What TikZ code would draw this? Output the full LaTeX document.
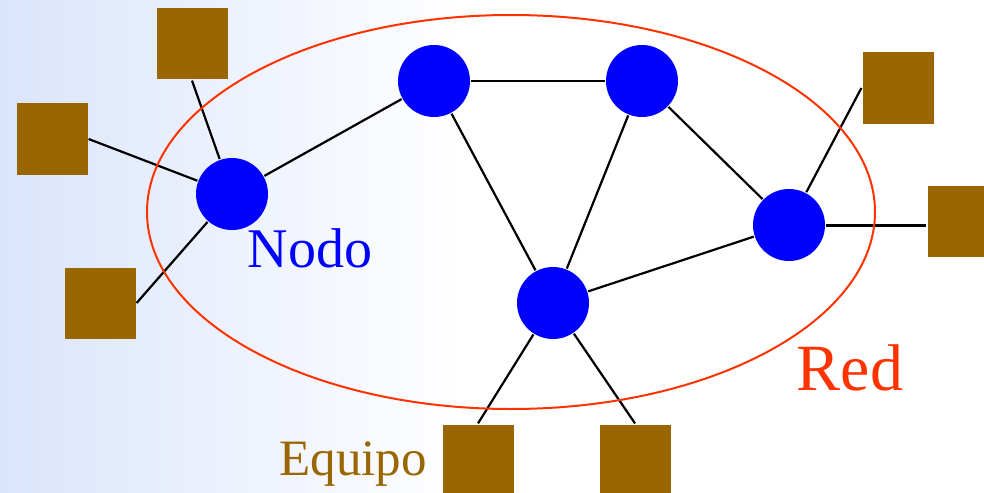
\documentclass[tikz,border=0pt]{standalone}
\usepackage{fontspec}
\setmainfont{Liberation Serif}
\usetikzlibrary{shapes.geometric}
\definecolor{nodoblue}{RGB}{0,0,255}
\definecolor{equipobrown}{RGB}{153,102,0}
\definecolor{redline}{RGB}{255,51,0}
\definecolor{fondo}{RGB}{218,228,251}

\begin{document}
\begin{tikzpicture}
          [x=1pt, y=-1pt, line width=2.2pt,
           main/.style = {circle, fill=nodoblue, minimum size=72pt, inner sep=0pt},
           host/.style = {rectangle, fill=equipobrown, minimum size=71pt, inner sep=0pt},
           label/.style = {anchor=base, inner sep=0pt}]
          \clip (0,0) rectangle (984,492);
          \shade[left color=fondo, right color=white] (0,0) rectangle (460,492);
          % nodos
          \node[main] (1) at (232,194) {};
          \node[main] (2) at (434,81) {};
          \node[main] (3) at (642,81) {};
          \node[main] (4) at (789,225) {};
          \node[main] (5) at (553,303) {};
          % equipos
          \node[host] (a) at (192,44) {};
          \node[host] (b) at (52,139) {};
          \node[host] (c) at (100,303) {};
          \node[host] (d) at (898,88) {};
          \node[host] (e) at (963,221) {};
          \node[host] (f) at (478,460) {};
          \node[host] (g) at (635,460) {};
          
          \draw (1) to (2);
          \draw[line width=2.8pt] (2) to (3);
          \draw (2) to (5);
          \draw (3) to (5);
          \draw (3) to (4);
          \draw (4) to (5);
          \draw (a.south) to (1);
          \draw (b.east) to (1);
          \draw (c.east) to (1);
          \draw (d.west) to (4);
          \draw[line width=3pt] (4.east) to (4.east -| e.west);
          \draw (f.north) to (5);
          \draw (g.north) to (5);
          
          \draw[redline, line width=2pt] (511,212) ellipse [x radius=364pt, y radius=197pt];
          
          \node[label, text=nodoblue, font=\fontsize{56}{60}\selectfont] (nodo) at (310,267) {Nodo};
          \node[label, text=redline, font=\fontsize{66}{70}\selectfont] (red) at (850,390) {Red};
          \node[label, text=equipobrown, font=\fontsize{51}{60}\selectfont] (equipo) at (353,475) {Equipo};
\end{tikzpicture}
\end{document}
